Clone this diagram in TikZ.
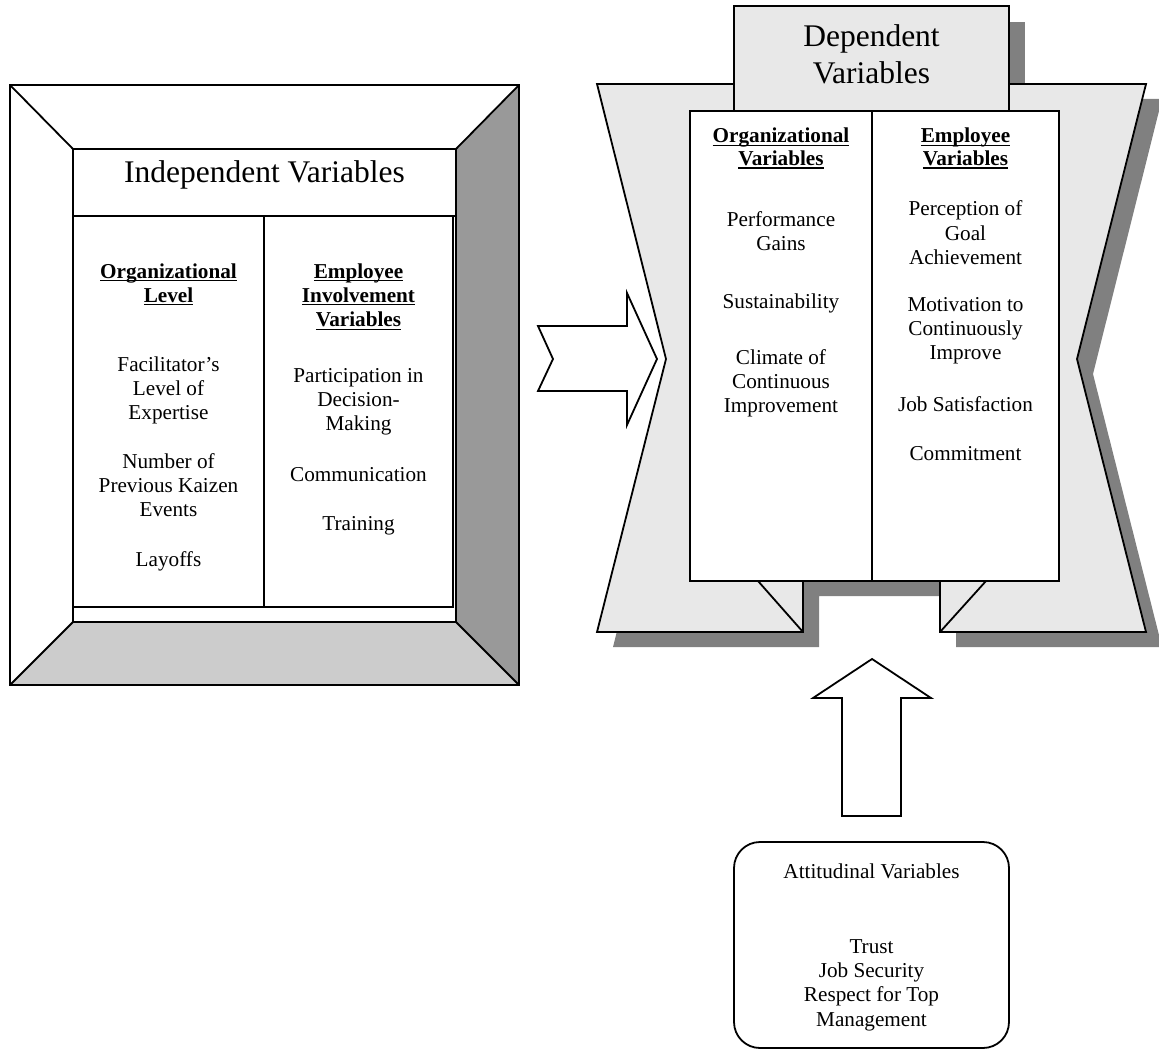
\documentclass[tikz,border=0pt]{standalone}
\usepackage{fontspec}
\setmainfont{Liberation Serif}
\newcommand\tlines[1]{\begin{tabular}[t]{@{}c@{}}#1\end{tabular}}
\newcommand\uh[1]{\setbox0\hbox{\textbf{#1}}\rlap{\rule[-3pt]{\wd0}{1.3pt}}\box0}
\newcommand\fbody{\fontsize{21.2}{24.4}\selectfont}
\newcommand\fhead{\fontsize{21.2}{22.6}\selectfont}
\newcommand\ftitle{\fontsize{31.5}{36.6}\selectfont}
\definecolor{lgray}{HTML}{E8E8E8}
\definecolor{dgray}{HTML}{808080}
\definecolor{mgray}{HTML}{999999}
\definecolor{sgray}{HTML}{CCCCCC}
\tikzset{
  ln/.style={line width=1.8pt, line join=miter, draw=black},
  txt/.style={inner sep=0pt, anchor=base, font=\fbody},
  hd/.style={inner sep=0pt, anchor=base, font=\fhead},
  ttl/.style={inner sep=0pt, anchor=base, font=\ftitle},
}
\begin{document}
\begin{tikzpicture}[x=1pt, y=-1pt]
\useasboundingbox (0,0) rectangle (1159,1051);
% ---------------- left frame ----------------
\fill[mgray] (519,85) -- (519,685) -- (456,622) -- (456,149) -- cycle;
\fill[sgray] (10,685) -- (519,685) -- (456,622) -- (73,622) -- cycle;
\draw[ln] (10,85) rectangle (519,685);
\draw[ln, fill=white] (73,149) rectangle (456,622);
\draw[ln] (10,85) -- (73,149);
\draw[ln] (519,85) -- (456,149);
\draw[ln] (10,685) -- (73,622);
\draw[ln] (519,685) -- (456,622);
\draw[ln] (73,216) -- (456,216);
\draw[ln] (73,216) rectangle (453,607);
\draw[ln] (264,216) -- (264,607);
\node[ttl] (indep) at (264.5,183) {Independent Variables};
\node[txt] (orglev) at (168.5,278) {\tlines{\uh{Organizational}\\ \uh{Level}}};
\node[txt] (facil) at (168.5,371) {\tlines{Facilitator’s\\ Level of\\ Expertise}};
\node[txt] (numprev) at (168.5,468) {\tlines{Number of\\ Previous Kaizen\\ Events}};
\node[txt] (layoffs) at (168.5,566) {Layoffs};
\node[txt] (empinv) at (358.5,278) {\tlines{\uh{Employee}\\ \uh{Involvement}\\ \uh{Variables}}};
\node[txt] (partic) at (358.5,382) {\tlines{Participation in\\ Decision-\\ Making}};
\node[txt] (comm) at (358.5,481) {Communication};
\node[txt] (train) at (358.5,530) {Training};
% ---------------- right shape ----------------
\fill[dgray] (750,22) rectangle (1025,111);
\fill[dgray, shift={(16,15)}] (597,84) -- (1146,84) -- (1077,359) -- (1146,632) -- (940,632) -- (940,581) -- (803,581) -- (803,632) -- (597,632) -- (666,359) -- cycle;
\fill[lgray] (597,84) -- (1146,84) -- (1077,359) -- (1146,632) -- (940,632) -- (940,581) -- (803,581) -- (803,632) -- (597,632) -- (666,359) -- cycle;
\draw[ln] (940,581) -- (940,632) -- (1146,632) -- (1077,359) -- (1146,84) -- (597,84) -- (666,359) -- (597,632) -- (803,632) -- (803,581);
\draw[ln] (803,632) -- (758,581);
\draw[ln] (940,632) -- (986,581);
\draw[ln, fill=lgray] (734,111) -- (734,6) -- (1009,6) -- (1009,111);
\draw[ln, fill=white] (690,111) rectangle (1059,581);
\draw[ln] (872,111) -- (872,581);
\node[ttl] (dep) at (871.5,47) {\tlines{Dependent\\ Variables}};
\node[hd] (orgvar) at (781,143) {\tlines{\uh{Organizational}\\ \uh{Variables}}};
\node[txt] (perf) at (781,226) {\tlines{Performance\\ Gains}};
\node[txt] (sust) at (781,308) {Sustainability};
\node[txt] (clim) at (781,364) {\tlines{Climate of\\ Continuous\\ Improvement}};
\node[hd] (empvar) at (965.5,143) {\tlines{\uh{Employee}\\ \uh{Variables}}};
\node[txt] (percep) at (965.5,216) {\tlines{Perception of\\ Goal\\ Achievement}};
\node[txt] (motiv) at (965.5,311) {\tlines{Motivation to\\ Continuously\\ Improve}};
\node[txt] (jobsat) at (965.5,411) {Job Satisfaction};
\node[txt] (commit) at (965.5,460) {Commitment};
% ---------------- block arrows ----------------
\draw[ln, fill=white] (538,326) -- (627,326) -- (627,293) -- (657,359) -- (627,425) -- (627,391) -- (538,391) -- (553,359) -- cycle;
\draw[ln, fill=white] (872,659) -- (931,698) -- (901,698) -- (901,816) -- (842,816) -- (842,698) -- (813,698) -- cycle;
% ---------------- attitudinal box ----------------
\draw[ln, rounded corners=26pt] (734,842) rectangle (1009,1048);
\node[txt] (attit) at (871.5,878) {Attitudinal Variables};
\node[txt] (trust) at (871.5,953) {\tlines{Trust\\ Job Security\\ Respect for Top\\ Management}};
\end{tikzpicture}
\end{document}
